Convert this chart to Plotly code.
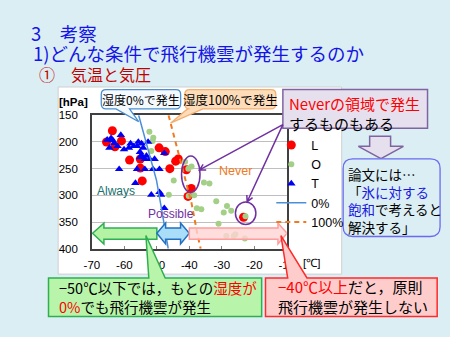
import math
import plotly.graph_objects as go

W, H = 450, 337

# ---- 観測データ（気温 [℃], 気圧 [hPa]） ----
L_temp = [-63.7, -65.5, -60.9, -62.9, -49.3, -47.4, -58.4, -55.1, -55.1, -54.5,
          -46.0, -44.2, -43.4, -40.9, -39.4, -40.4, -23.3]
L_pres = [179, 200, 198, 209, 211, 218, 234, 232, 249, 273,
          250, 236, 232, 252, 287, 302, 341]

O_temp = [-52.3, -51.1, -51.3, -51.7, -41.3, -40.3, -39.3, -44.8, -46.3, -40.2,
          -35.5, -33.8, -38.5, -37.7, -36.3, -31.7, -28.4, -27.1, -29.4, -31.0,
          -22.7, -28.6, -26.3, -25.8, -22.9]
O_pres = [181, 192, 198, 217, 237, 250, 246, 272, 299, 301,
          276, 278, 300, 324, 326, 311, 320, 329, 332, 353,
          339, 376, 376, 373, 381]

T_temp = [-61.1, -64.1, -63.6, -65.3, -63.1, -64.6, -62.1, -60.1, -58.6, -58.1,
          -57.1, -55.7, -56.1, -54.7, -54.2, -55.2, -54.7, -53.2, -55.2, -53.7,
          -52.2, -50.7, -52.7, -47.7, -61.6, -56.1, -53.7, -51.2, -49.2, -56.6,
          -51.7, -49.2, -48.7, -47.7]
T_pres = [187, 193, 197, 196, 202, 211, 208, 214, 211, 203,
          208, 200, 208, 203, 211, 219, 225, 226, 229, 232,
          232, 232, 200, 221, 251, 251, 251, 251, 251, 277,
          299, 294, 299, 324]

# 飛行機雲の発生条件（相対湿度 0% / 100%）
rh0_temp = [-55.6, -52.7, -50.1, -48.3, -46.5]
rh0_pres = [150, 215, 272, 334, 400]
rh100_temp = [-46.4, -43.3, -39.3, -37.4, -36.5]
rh100_pres = [150, 220, 315, 376, 400]

x_ticks = [-70, -60, -50, -40, -30, -20, -10]
x_tick_labels = ["-70", "-60", "-50", "-40", "-30", "-20", "-10"]
y_ticks = [150, 200, 250, 300, 350, 400]

JP = "Noto Sans CJK JP"
BG = "#DBEEF4"


def P(x, y):
    return f"{x / W:.5f},{1 - y / H:.5f}"


def box_path(x0, y0, x1, y1, r=0, wedge=None):
    d = f"M{P(x0 + r, y0)}"
    if wedge and wedge[0] == "top":
        _, a, b, tx, ty = wedge
        d += f" L{P(a, y0)} L{P(tx, ty)} L{P(b, y0)}"
    d += f" L{P(x1 - r, y0)}"
    if r:
        d += f" Q{P(x1, y0)} {P(x1, y0 + r)}"
    d += f" L{P(x1, y1 - r)}"
    if r:
        d += f" Q{P(x1, y1)} {P(x1 - r, y1)}"
    if wedge and wedge[0] == "bottom":
        _, a, b, tx, ty = wedge
        d += f" L{P(b, y1)} L{P(tx, ty)} L{P(a, y1)}"
    d += f" L{P(x0 + r, y1)}"
    if r:
        d += f" Q{P(x0, y1)} {P(x0, y1 - r)}"
    d += f" L{P(x0, y0 + r)}"
    if r:
        d += f" Q{P(x0, y0)} {P(x0 + r, y0)}"
    return d + " Z"


def poly_px(pts):
    return "M" + " L".join(P(x, y) for x, y in pts) + " Z"


def poly_data(pts):
    return "M" + " L".join(f"{x},{y}" for x, y in pts) + " Z"


def open_arrow(x0, y0, x1, y1, size=7):
    ang = math.atan2(y1 - y0, x1 - x0)
    a1 = ang + math.pi - math.radians(28)
    a2 = ang + math.pi + math.radians(28)
    h1 = (x1 + size * math.cos(a1), y1 + size * math.sin(a1))
    h2 = (x1 + size * math.cos(a2), y1 + size * math.sin(a2))
    return (f"M{P(x0, y0)} L{P(x1, y1)} M{P(*h1)} L{P(x1, y1)} L{P(*h2)}")


fig = go.Figure()
fig.add_trace(go.Scatter(x=L_temp, y=L_pres, mode="markers", name="L",
                         marker=dict(color="#FF0000", size=9, symbol="circle")))
fig.add_trace(go.Scatter(x=O_temp, y=O_pres, mode="markers", name="O",
                         marker=dict(color="#A3CF86", size=6, symbol="circle")))
fig.add_trace(go.Scatter(x=T_temp, y=T_pres, mode="markers", name="T",
                         marker=dict(color="#0000F5", size=7.5, symbol="triangle-up")))
fig.add_trace(go.Scatter(x=rh0_temp, y=rh0_pres, mode="lines", name="0%",
                         line=dict(color="#4A8FD8", width=1.5)))
fig.add_trace(go.Scatter(x=rh100_temp, y=rh100_pres, mode="lines", name="100%",
                         line=dict(color="#F07A22", width=2, dash="5px,4px")))

shapes = []
# 白いグラフ枠
shapes.append(dict(type="rect", xref="paper", yref="paper", layer="below",
                   x0=52 / W, x1=346 / W, y0=1 - 278 / H, y1=1 - 84 / H,
                   fillcolor="white", line=dict(color="#CFCFCF", width=1)))

# 温度帯の矢印
shapes.append(dict(type="path", xref="x", yref="y", layer="above",
                   path=poly_data([(-69.8, 371), (-66.3, 352), (-66.3, 361), (-50, 361),
                                   (-50, 382), (-66.3, 382), (-66.3, 391)]),
                   fillcolor="#B4F2A4", line=dict(color="#2FAE55", width=1.5)))
shapes.append(dict(type="path", xref="x", yref="y", layer="above",
                   path=poly_data([(-50, 371), (-47.3, 352), (-47.3, 361), (-42.7, 361),
                                   (-42.7, 352), (-40, 371), (-42.7, 391), (-42.7, 382),
                                   (-47.3, 382), (-47.3, 391)]),
                   fillcolor="#AADDF7", line=dict(color="#2370C0", width=1.5)))
shapes.append(dict(type="path", xref="x", yref="y", layer="above",
                   path=poly_data([(-40, 361), (-12.7, 361), (-12.7, 352), (-9.9, 371),
                                   (-12.7, 391), (-12.7, 382), (-40, 382)]),
                   fillcolor="rgba(255,212,212,0.8)", line=dict(color="#FF9C9C", width=1.5)))

# 注目点の楕円
for x0, x1, y0, y1 in [(-42.4, -36.7, 226.5, 294.4), (-25.8, -19.5, 312.5, 354.7)]:
    shapes.append(dict(type="circle", xref="x", yref="y", layer="above",
                       x0=x0, x1=x1, y0=y0, y1=y1,
                       line=dict(color="#7030A0", width=1.5)))

# 吹き出し
shapes.append(dict(type="path", xref="paper", yref="paper", layer="above",
                   path=box_path(96.7, 86.7, 179, 106.7, r=5,
                                 wedge=("bottom", 112, 126, 135.5, 120)),
                   fillcolor="#F4F9FE", line=dict(color="#4A90D0", width=1.3)))
shapes.append(dict(type="path", xref="paper", yref="paper", layer="above",
                   path=box_path(183.3, 86.7, 277.7, 106.7, r=5,
                                 wedge=("bottom", 186, 202, 168.5, 121.5)),
                   fillcolor="#FCDCB9", line=dict(color="#F4AE70", width=1.3)))
shapes.append(dict(type="path", xref="paper", yref="paper", layer="above",
                   path=box_path(285, 86.7, 435, 126.7),
                   fillcolor="#E6E0EE", line=dict(color="#8064A2", width=1.5)))
shapes.append(dict(type="path", xref="paper", yref="paper", layer="above",
                   path=poly_px([(375, 135), (396.7, 135), (396.7, 145.5), (410, 145.5),
                                 (386.7, 158.3), (363.3, 145.5), (375, 145.5)]),
                   fillcolor="#E6E0EE", line=dict(color="#8064A2", width=1.5)))
shapes.append(dict(type="path", xref="paper", yref="paper", layer="above",
                   path=box_path(347.5, 158.5, 448, 239, r=10),
                   fillcolor=BG, line=dict(color="#6A6AF2", width=1.3)))
shapes.append(dict(type="path", xref="paper", yref="paper", layer="above",
                   path=box_path(42, 282, 263, 322,
                                 wedge=("top", 146, 163, 143, 238)),
                   fillcolor="#B8F5AA", line=dict(color="#2EB050", width=1.5)))
shapes.append(dict(type="path", xref="paper", yref="paper", layer="above",
                   path=box_path(267, 282, 445, 322,
                                 wedge=("top", 290, 310, 283, 238)),
                   fillcolor="#FFCCCC", line=dict(color="#FF2A2A", width=1.5)))

# Never の吹き出しから楕円への矢印
for tx, ty in [(198.5, 170), (248, 203)]:
    shapes.append(dict(type="path", xref="paper", yref="paper", layer="above",
                       path=open_arrow(285, 123, tx, ty),
                       line=dict(color="#7030A0", width=1.5)))

ann = []


def text(x, y, s, size, color="black", anchor="left", font=JP):
    ann.append(dict(x=x / W, y=1 - y / H, xref="paper", yref="paper", text=s,
                    showarrow=False, xanchor=anchor, yanchor="middle", align="left",
                    font=dict(family=font, size=size, color=color)))


text(22, 28.5, "3　考察", 18.5, "#1414E6")
text(24, 48.5, "1)どんな条件で飛行機雲が発生するのか", 18.5, "#1414E6")
text(30, 71, "①　気温と気圧", 16, "#C00000")

text(137.9, 96.7, "湿度0%で発生", 12, anchor="center")
text(230.5, 96.7, "湿度100%で発生", 12.5, anchor="center")
text(289, 111.5, "<span style='color:#FF0000'>Neverの領域で発生</span><br>するものもある", 15)
text(350, 201.7, "論文には…<br>「<span style='color:#1A1AE0'>氷に対する</span><br>"
     "<span style='color:#1A1AE0'>飽和</span>で考えると<br>解決する」", 13.5)
text(51, 301.7, "−50℃以下では，もとの<span style='color:#FF0000'>湿度が</span><br>"
     "<span style='color:#FF0000'>0%</span>でも飛行機雲が発生", 14.5)
text(278, 301.7, "<span style='color:#FF0000'>−40℃以上</span>だと，原則<br>飛行機雲が発生しない", 15)

text(68, 100, "<b>[hPa]</b>", 11.5, anchor="center", font="Arial")
text(315, 267, "[℃]", 11.5, anchor="center", font="Arial")

# 領域ラベル
ann.append(dict(x=-62.6, y=292.6, xref="x", yref="y", text="Always", showarrow=False,
                font=dict(family="Arial", size=12, color="#16706E")))
ann.append(dict(x=-45.5, y=335, xref="x", yref="y", text="Possible", showarrow=False,
                font=dict(family="Arial", size=12, color="#7030A0")))
ann.append(dict(x=-25.9, y=253.6, xref="x", yref="y", text="Never", showarrow=False,
                font=dict(family="Arial", size=12.5, color="#F07A22")))

fig.update_layout(
    width=W, height=H,
    margin=dict(l=0, r=0, t=0, b=0),
    paper_bgcolor=BG, plot_bgcolor="white",
    shapes=shapes, annotations=ann,
    showlegend=True,
    legend=dict(x=273 / W, y=1 - 129 / H, xanchor="left", yanchor="top",
                bgcolor="rgba(0,0,0,0)", font=dict(family="Arial", size=12.5, color="black"),
                itemwidth=30, tracegroupgap=0),
    xaxis=dict(domain=[87 / W, 289 / W], range=[-70, -10], tickvals=x_ticks,
               ticktext=x_tick_labels,
               showgrid=False, zeroline=False, showline=True, mirror=True,
               linecolor="#404040", linewidth=1.5, ticks="inside", ticklen=3,
               tickcolor="#808080", ticklabelstandoff=5,
               tickfont=dict(family="Arial", size=11.5, color="black")),
    yaxis=dict(domain=[1 - 251.7 / H, 1 - 113.3 / H], range=[400, 150], tickvals=y_ticks,
               showgrid=True, gridcolor="#BFBFBF", gridwidth=1, zeroline=False,
               showline=True, mirror=True, linecolor="#404040", linewidth=1.5,
               ticks="", ticklabelstandoff=10,
               tickfont=dict(family="Arial", size=11.5, color="black")),
)

fig.write_html("out.html")
